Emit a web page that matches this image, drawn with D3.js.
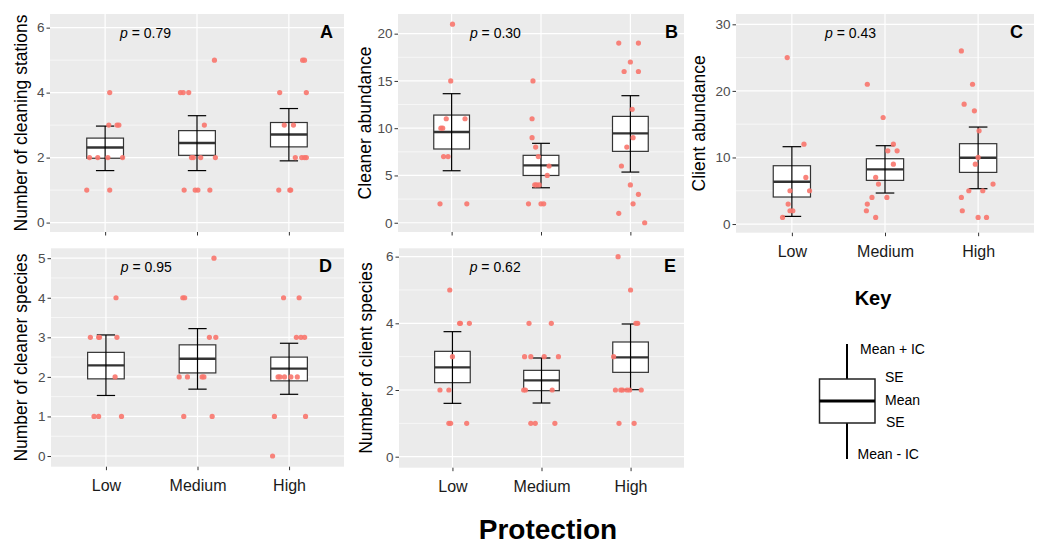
<!DOCTYPE html>
<html>
<head>
<meta charset="utf-8">
<script src="https://cdn.jsdelivr.net/npm/d3@7"></script>
<style>
body { margin: 0; background: #fff; font-family: "Liberation Sans", Arial, sans-serif; }
</style>
</head>
<body>
<div id="chart"></div>
<script>
// categories on the x axis
var categories = ["Low", "Medium", "High"];

// points per category: [value, horizontal jitter in category units]
var stationsPts = [
    [[4, .05], [3, .04], [3, .13], [3, .15], [2, -.17], [2, -.08], [2, .03], [2, .19], [1, -.2], [1, .05]],
    [[5, .19], [4, -.18], [4, -.15], [4, -.09], [3, .08], [2, -.06], [2, -.04], [2, .04], [2, .2], [1, -.14], [1, -.02], [1, .01], [1, .14]],
    [[5, .15], [5, .17], [4, -.1], [4, .19], [3, -.05], [3, .05], [2, .07], [2, .14], [2, .17], [2, .19], [1, -.11], [1, .01], [1, .02]]
];
var cleanerPts = [
    [[21, .01], [15, -.01], [11, -.06], [11, .15], [10, -.12], [10, -.1], [7, -.09], [7, -.04], [2, -.13], [2, .17]],
    [[15, -.09], [11, -.1], [9, -.1], [8, -.06], [7, -.03], [6, .09], [5, .07], [4, -.07], [4, -.05], [4, -.02], [2, -.14], [2, 0], [2, .03]],
    [[19, -.13], [19, .09], [17, 0], [16, -.07], [16, .09], [12, .02], [9, .03], [8, -.04], [6, -.1], [4, 0], [3, .09], [2, .03], [1, -.13], [0, .16]]
];
var clientPts = [
    [[25, -.05], [12, .13], [7, .15], [5, -.02], [5, .19], [3, -.04], [2, -.02], [2, .01], [1, -.1]],
    [[21, -.19], [16, -.02], [12, .09], [11, .03], [11, .13], [9, .09], [7, -.1], [6, -.07], [4, -.14], [4, .02], [3, -.19], [2, -.2], [1, -.1]],
    [[26, -.18], [21, -.06], [18, -.15], [17, -.04], [14, .01], [10, 0], [9, -.03], [6, .16], [5, -.1], [5, .05], [4, -.18], [2, -.17], [1, 0], [1, .09]]
];
var cleanerSpPts = [
    [[4, .11], [3, -.17], [3, -.08], [3, -.07], [3, .12], [2, .1], [1, -.13], [1, -.08], [1, .17]],
    [[5, .18], [4, -.16], [4, -.14], [3, .13], [3, .2], [2, -.2], [2, -.11], [2, .05], [2, .07], [1, -.15], [1, .16]],
    [[4, -.06], [4, .11], [3, .08], [3, .13], [3, .17], [2, -.12], [2, -.1], [2, -.05], [2, .02], [2, .09], [1, -.16], [1, .18], [0, -.18]]
];
var clientSpPts = [
    [[5, -.03], [4, .08], [4, .09], [4, .19], [3, 0], [2, -.14], [2, -.04], [1, -.04], [1, -.02], [1, .16]],
    [[4, -.14], [4, .11], [3, -.19], [3, -.12], [3, .03], [3, .19], [2, -.2], [2, -.18], [2, .12], [1, -.12], [1, -.07], [1, .15]],
    [[6, -.14], [5, 0], [4, .06], [4, .08], [3, -.19], [2, -.17], [2, -.11], [2, -.09], [2, -.04], [2, -.01], [2, .12], [1, -.13], [1, .04]]
];

// summary per category: [mean, mean - SE, mean + SE, mean - IC, mean + IC]
var stationsStats = [[2.31, 1.98, 2.6, 1.6, 2.97], [2.45, 2.07, 2.83, 1.6, 3.29], [2.71, 2.33, 3.08, 1.9, 3.51]];
var cleanerStats = [[9.6, 7.8, 11.39, 5.5, 13.65], [6.07, 5.0, 7.13, 3.7, 8.4], [9.45, 7.55, 11.25, 5.36, 13.44]];
var clientStats = [[6.36, 4.06, 8.76, 1.15, 11.62], [8.21, 6.56, 9.81, 4.66, 11.77], [9.96, 7.76, 12.07, 5.31, 14.57]];
var cleanerSpStats = [[2.29, 1.95, 2.62, 1.53, 3.06], [2.46, 2.10, 2.81, 1.69, 3.22], [2.21, 1.90, 2.50, 1.56, 2.85]];
var clientSpStats = [[2.68, 2.22, 3.16, 1.60, 3.75], [2.29, 1.98, 2.59, 1.61, 2.96], [2.98, 2.53, 3.44, 2.01, 3.98]];

// y tick labels
var stationsTicks = [0, 2, 4, 6];
var cleanerTicks = [0, 5, 10, 15, 20];
var clientTicks = [0, 10, 20, 30];
var cleanerSpTicks = [0, 1, 2, 3, 4, 5];
var clientSpTicks = [0, 2, 4, 6];

var pValues = ["0.79", "0.30", "0.43", "0.95", "0.62"];

function init() {
    var W = 1042, H = 544;
    var svg = d3.select("#chart").append("svg")
        .attr("width", W).attr("height", H);

    var panels = [
        { pts: stationsPts, stats: stationsStats, ticks: stationsTicks, x0: 50, x1: 344, y0: 14, y1: 232,
          domain: [-0.29, 6.42], title: "Number of cleaning stations", tx: 21, letter: "A", lx: 333, px: 0.44, xlab: false },
        { pts: cleanerPts, stats: cleanerStats, ticks: cleanerTicks, x0: 398, x1: 684, y0: 14, y1: 232,
          domain: [-0.98, 22.08], title: "Cleaner abundance", tx: 365, letter: "B", lx: 678, px: 0.49, xlab: false },
        { pts: clientPts, stats: clientStats, ticks: clientTicks, x0: 736, x1: 1034, y0: 14, y1: 232.7,
          domain: [-1.3, 31.55], title: "Client abundance", tx: 699, letter: "C", lx: 1023, px: 0.63, xlab: true },
        { pts: cleanerSpPts, stats: cleanerSpStats, ticks: cleanerSpTicks, x0: 51, x1: 344, y0: 248.3, y1: 466.7,
          domain: [-0.27, 5.25], title: "Number of cleaner species", tx: 21, letter: "D", lx: 332, px: 0.44, xlab: true },
        { pts: clientSpPts, stats: clientSpStats, ticks: clientSpTicks, x0: 399, x1: 684, y0: 248.3, y1: 467.7,
          domain: [-0.33, 6.25], title: "Number of client species", tx: 366, letter: "E", lx: 676, px: 0.48, xlab: true }
    ];

    panels.forEach(function (p, i) {
        var x = d3.scalePoint().domain(categories).range([p.x0, p.x1]).padding(0.6);
        var y = d3.scaleLinear().domain(p.domain).range([p.y1, p.y0]);
        var step = x.step();
        var g = svg.append("g");

        // panel background + grid
        g.append("rect")
            .attr("x", p.x0).attr("y", p.y0)
            .attr("width", p.x1 - p.x0).attr("height", p.y1 - p.y0)
            .attr("fill", "#EBEBEB");

        var tStep = p.ticks[1] - p.ticks[0];
        var minor = p.ticks.map(function (t) { return t + tStep / 2; })
            .filter(function (t) { return y(t) > p.y0; });

        g.selectAll(".minor").data(minor).enter().append("line")
            .attr("x1", p.x0).attr("x2", p.x1)
            .attr("y1", d => y(d)).attr("y2", d => y(d))
            .attr("stroke", "#fff").attr("stroke-width", 0.6);
        g.selectAll(".major").data(p.ticks).enter().append("line")
            .attr("x1", p.x0).attr("x2", p.x1)
            .attr("y1", d => y(d)).attr("y2", d => y(d))
            .attr("stroke", "#fff").attr("stroke-width", 1.2);
        g.selectAll(".vgrid").data(categories).enter().append("line")
            .attr("x1", d => x(d)).attr("x2", d => x(d))
            .attr("y1", p.y0).attr("y2", p.y1)
            .attr("stroke", "#fff").attr("stroke-width", 1.2);

        // axes
        var yAxis = g.append("g")
            .attr("transform", "translate(" + p.x0 + ",0)")
            .call(d3.axisLeft(y).tickValues(p.ticks).tickFormat(d3.format("~g"))
                .tickSize(3.5).tickPadding(2));
        yAxis.select(".domain").remove();
        yAxis.selectAll("line").attr("stroke", "#333");
        yAxis.selectAll("text")
            .attr("fill", "#4D4D4D")
            .style("font-size", "13.5px")
            .style("font-family", "Liberation Sans, Arial, sans-serif");

        var xAxis = g.append("g")
            .attr("transform", "translate(0," + p.y1 + ")")
            .call(d3.axisBottom(x).tickSize(3.5).tickPadding(9)
                .tickFormat(p.xlab ? null : ""));
        xAxis.select(".domain").remove();
        xAxis.selectAll("line").attr("stroke", "#333");
        xAxis.selectAll("text")
            .attr("fill", "#1a1a1a")
            .style("font-size", "16px")
            .style("font-family", "Liberation Sans, Arial, sans-serif");

        // axis title
        g.append("text")
            .attr("transform", "translate(" + p.tx + "," + ((p.y0 + p.y1) / 2) + ") rotate(-90)")
            .attr("dy", "0.35em")
            .style("text-anchor", "middle")
            .style("font-size", "17.5px")
            .attr("fill", "#000")
            .text(p.title);

        // boxes: mean +- SE
        var bw = step * 0.4, cw = step * 0.2;
        p.stats.forEach(function (s, k) {
            var cx = x(categories[k]);
            g.append("rect")
                .attr("x", cx - bw / 2).attr("y", y(s[2]))
                .attr("width", bw).attr("height", y(s[1]) - y(s[2]))
                .attr("fill", "#fff").attr("stroke", "#333").attr("stroke-width", 1.2);
            g.append("line")
                .attr("x1", cx - bw / 2).attr("x2", cx + bw / 2)
                .attr("y1", y(s[0])).attr("y2", y(s[0]))
                .attr("stroke", "#333").attr("stroke-width", 2.4);
            // error bar: mean +- IC
            g.append("line")
                .attr("x1", cx).attr("x2", cx)
                .attr("y1", y(s[3])).attr("y2", y(s[4]))
                .attr("stroke", "#000").attr("stroke-width", 1.2);
            [s[3], s[4]].forEach(function (v) {
                g.append("line")
                    .attr("x1", cx - cw / 2).attr("x2", cx + cw / 2)
                    .attr("y1", y(v)).attr("y2", y(v))
                    .attr("stroke", "#000").attr("stroke-width", 1.2);
            });
        });

        // jittered points
        p.pts.forEach(function (list, k) {
            g.selectAll(null).data(list).enter().append("circle")
                .attr("cx", d => x(categories[k]) + d[1] * step)
                .attr("cy", d => y(d[0]))
                .attr("r", 2.6)
                .attr("fill", "#F8766D")
                .attr("opacity", 0.9);
        });

        // p value annotation
        var pt = g.append("text")
            .attr("x", x(categories[0]) + p.px * step)
            .attr("y", p.y0 + 24)
            .style("text-anchor", "middle")
            .style("font-size", "14px")
            .attr("fill", "#000");
        pt.append("tspan").style("font-style", "italic").text("p");
        pt.append("tspan").text(" = " + pValues[i]);

        // panel letter
        g.append("text")
            .attr("x", p.lx).attr("y", p.y0 + 24)
            .style("text-anchor", "end")
            .style("font-size", "18px")
            .style("font-weight", "bold")
            .text(p.letter);
    });

    // shared x title
    svg.append("text")
        .attr("x", 548).attr("y", 539)
        .style("text-anchor", "middle")
        .style("font-size", "28px")
        .style("font-weight", "bold")
        .text("Protection");

    // Key
    var key = svg.append("g");
    key.append("text")
        .attr("x", 873).attr("y", 305)
        .style("text-anchor", "middle")
        .style("font-size", "20px")
        .style("font-weight", "bold")
        .text("Key");
    key.append("line").attr("x1", 847).attr("x2", 847).attr("y1", 344).attr("y2", 459)
        .attr("stroke", "#000").attr("stroke-width", 2);
    key.append("rect").attr("x", 819.5).attr("y", 379).attr("width", 55.5).attr("height", 44)
        .attr("fill", "#fff").attr("stroke", "#222").attr("stroke-width", 1.5);
    key.append("line").attr("x1", 819.5).attr("x2", 875).attr("y1", 401).attr("y2", 401)
        .attr("stroke", "#000").attr("stroke-width", 3);
    var keyLabels = [["Mean + IC", 860, 349], ["SE", 885, 377], ["Mean", 885, 400], ["SE", 886, 422], ["Mean - IC", 857.5, 454]];
    key.selectAll(".kl").data(keyLabels).enter().append("text")
        .attr("x", d => d[1]).attr("y", d => d[2])
        .attr("dy", "0.35em")
        .style("font-size", "14px")
        .text(d => d[0]);
}

init();
</script>
</body>
</html>
